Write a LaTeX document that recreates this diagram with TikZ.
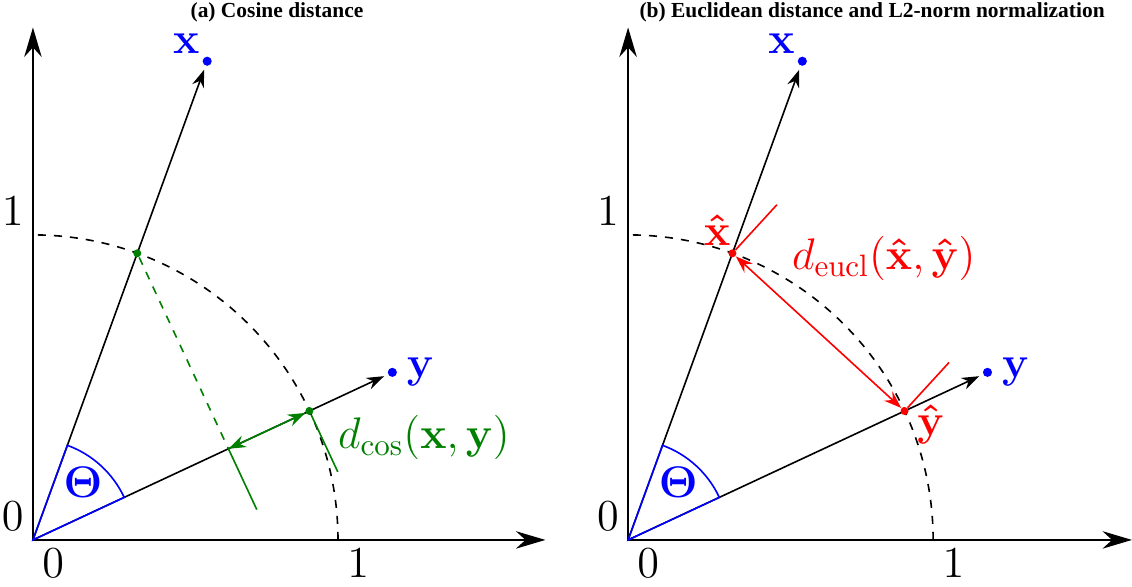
\RequirePackage{fix-cm}
\documentclass[tikz,border=0pt]{standalone}
\usepackage{amsmath,amssymb}
\usepackage[no-math]{fontspec}
\newfontfamily\titlefont{Liberation Serif}
\usepackage{tikz}
\usetikzlibrary{positioning, arrows.meta, calc}

\definecolor{cosgreen}{RGB}{0,128,0}

\begin{document}
\begin{tikzpicture}[
  x=4cm, y=4cm,
  font=\fontsize{16.5}{19}\selectfont,
  axisline/.style={-{Stealth[length=11pt, width=6.5pt]}, line width=0.8pt},
  vec/.style={-{Stealth[length=6.5pt, width=4.6pt]}, line width=0.6pt, shorten >=1.5pt},
  dot/.style={circle, fill, inner sep=0pt, minimum size=3.4pt},
  smalldot/.style={circle, fill, inner sep=0pt, minimum size=3pt},
  unitarc/.style={dashed, line width=0.6pt},
  thetaarc/.style={blue, line width=0.6pt},
  distarrow/.style={{Stealth[length=6.5pt, width=4.6pt]}-{Stealth[length=6.5pt, width=4.6pt]},
    line width=0.6pt},
  panel/.style={font=\titlefont\bfseries\fontsize{8}{10}\selectfont},
  ticklbl/.style={inner sep=3.3pt},
]
  \useasboundingbox (-0.108,-0.154) rectangle (3.603,1.770);

  % (a) cosine distance
  \begin{scope}
    \coordinate (Oa) at (0,0);
    \coordinate (xenda) at (1.68,0);
    \coordinate (yenda) at (0,1.68);
    \draw[axisline] (Oa) -- (xenda);
    \draw[axisline] (Oa) -- (yenda);
    \node[ticklbl, above left] (zeroya) at (Oa) {$0$};
    \node[ticklbl, below right] (zeroxa) at (Oa) {$0$};
    \node[ticklbl, above left] (oneya) at (0,1) {$1$};
    \node[ticklbl, below right] (onexa) at (1,0) {$1$};
    \draw[unitarc] (1,0) arc[start angle=0, end angle=90, radius=1];

    \node[dot, blue] (xa) at (70:1.67) {};
    \node[dot, blue] (ya) at (25:1.30) {};
    \draw[vec] (Oa) -- (xa);
    \draw[vec] (Oa) -- (ya);
    \node[blue, above left=-2pt and -2pt of xa] (xlbla) {$\mathbf{x}$};
    \node[blue, right=0pt of ya] (ylbla) {$\mathbf{y}$};

    \draw[thetaarc] (Oa) -- (25:0.33) arc[start angle=25, end angle=70, radius=0.33] -- cycle;
    \node[blue] (thetaa) at (49:0.25) {$\boldsymbol{\Theta}$};

    \node[smalldot, cosgreen] (xhata) at (70:1) {};
    \node[smalldot, cosgreen] (yhata) at (25:1) {};
    \coordinate (pa) at (25:0.7071);
    \coordinate (penda) at ($(pa)+(-65:0.22)$);
    \coordinate (yenda2) at ($(yhata)+(-65:0.22)$);
    \draw[cosgreen, dashed, line width=0.6pt] (xhata) -- (pa);
    \draw[cosgreen, line width=0.6pt] (pa) -- (penda);
    \draw[cosgreen, line width=0.6pt] (yhata) -- (yenda2);
    \draw[distarrow, cosgreen] (pa) -- (yhata);
    \node[cosgreen, below right=-3pt and 6pt of yhata] (dcos) {$d_{\cos}(\mathbf{x},\mathbf{y})$};

    \node[panel] (titlea) at (0.80,1.731) {(a) Cosine distance};
  \end{scope}

  % (b) euclidean distance
  \begin{scope}[shift={(1.951,0)}]
    \coordinate (Ob) at (0,0);
    \coordinate (xendb) at (1.652,0);
    \coordinate (yendb) at (0,1.68);
    \draw[axisline] (Ob) -- (xendb);
    \draw[axisline] (Ob) -- (yendb);
    \node[ticklbl, above left] (zeroyb) at (Ob) {$0$};
    \node[ticklbl, below right] (zeroxb) at (Ob) {$0$};
    \node[ticklbl, above left] (oneyb) at (0,1) {$1$};
    \node[ticklbl, below right] (onexb) at (1,0) {$1$};
    \draw[unitarc] (1,0) arc[start angle=0, end angle=90, radius=1];

    \node[dot, blue] (xb) at (70:1.67) {};
    \node[dot, blue] (yb) at (25:1.30) {};
    \draw[vec] (Ob) -- (xb);
    \draw[vec] (Ob) -- (yb);
    \node[blue, above left=-2pt and -2pt of xb] (xlblb) {$\mathbf{x}$};
    \node[blue, right=0pt of yb] (ylblb) {$\mathbf{y}$};

    \draw[thetaarc] (Ob) -- (25:0.33) arc[start angle=25, end angle=70, radius=0.33] -- cycle;
    \node[blue] (thetab) at (49:0.25) {$\boldsymbol{\Theta}$};

    \node[smalldot, red] (xhatb) at (70:1) {};
    \node[smalldot, red] (yhatb) at (25:1) {};
    \coordinate (xtickb) at ($(xhatb)+(47.5:0.216)$);
    \coordinate (ytickb) at ($(yhatb)+(47.5:0.216)$);
    \draw[red, line width=0.6pt] (xhatb) -- (xtickb);
    \draw[red, line width=0.6pt] (yhatb) -- (ytickb);
    \draw[distarrow, red] (xhatb) -- (yhatb);
    \node[red, above left=-2pt and -4pt of xhatb] (xhatlbl) {$\mathbf{\hat{x}}$};
    \node[red, below right=-7pt and 0pt of yhatb] (yhatlbl) {$\mathbf{\hat{y}}$};
    \node[red, right=17pt of xhatb, yshift=-2pt] (deucl) {$d_{\mathrm{eucl}}(\mathbf{\hat{x}},\mathbf{\hat{y}})$};

    \node[panel] (titleb) at (0.80,1.731) {(b) Euclidean distance and L2-norm normalization};
  \end{scope}
\end{tikzpicture}
\end{document}
